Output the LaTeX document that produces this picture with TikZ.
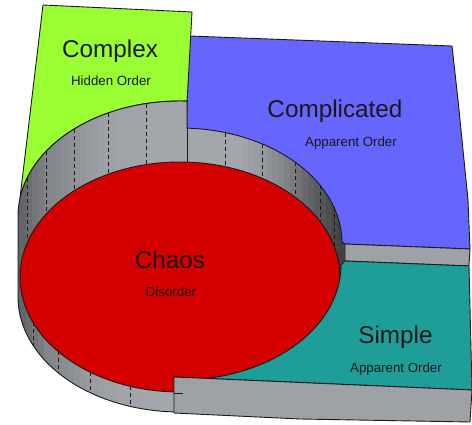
\documentclass[tikz,border=0pt]{standalone}
\usepackage{fontspec}
\setmainfont{Liberation Sans}

\definecolor{complexgreen}{HTML}{99FF33}
\definecolor{complicatedblue}{HTML}{6666FF}
\definecolor{simpleteal}{HTML}{1F9E99}
\definecolor{chaosred}{HTML}{D40000}
\definecolor{slabgray}{HTML}{9EA1A6}
\definecolor{edgecol}{HTML}{1A1A1A}
\definecolor{wallgray}{HTML}{A3A6AB}

\begin{document}
\begin{tikzpicture}[x=1pt,y=-1pt,
  edge/.style={draw=edgecol, line width=0.9pt, line join=round},
  seam/.style={draw=edgecol, line width=0.8pt, dash pattern=on 4pt off 3pt},
  bigtxt/.style={font=\fontsize{24.3}{28}\selectfont, text=black!90, inner sep=0pt, anchor=base},
  smalltxt/.style={font=\fontsize{13.3}{16}\selectfont, text=black!90, inner sep=0pt, anchor=base}]

\useasboundingbox (0,0) rectangle (472,425);

% Complicated plane (back right)
\path[fill=complicatedblue, edge] (190,36) -- (452,46) -- (458,100) -- (468,200)
  -- (470,249) -- (345,244) -- (186,128) -- cycle;
% step face below the Complicated plane
\path[fill=slabgray, edge] (345,244) -- (470,249) -- (469,266) -- (345,261) -- cycle;

% Complex plane (back left), cut by the upper rim of the cylinder
\path[fill=complexgreen, edge] (43,5) -- (192,12) -- (187.1,101.1)
  -- plot[domain=87.5:171, samples=30] ({180+162*cos(\x)},{216-115*sin(\x)}) -- cycle;

% cylinder wall, shaded in vertical strips: dark at both silhouettes, light in the middle
\begin{scope}
  \clip
    plot[domain=92.1:180, samples=40] ({180+162*cos(\x)},{297+115*sin(\x)})
    -- (18,216)
    -- plot[domain=0:92.5, samples=40] ({180+162*cos(180-\x)},{216-115*sin(180-\x)})
    -- ({180+162*cos(87.5)},{243-115*sin(87.5)})
    -- plot[domain=0:87.5, samples=40] ({180+162*cos(87.5-\x)},{243-115*sin(87.5-\x)})
    -- (345,244) -- (345,262) -- (341,277) -- cycle;
  \foreach \xx/\pc in {14/57,20/61,26/66,32/71,38/75,44/80,50/81,56/83,62/85,68/87,
      74/89,80/91,86/93,92/94,98/96,104/97,110/97,116/98,122/98,128/98,134/99,140/99,
      146/100,152/100,158/100,164/100,170/100,176/100,182/100,188/100,194/100,200/100,
      206/100,212/100,218/100,224/100,230/100,236/100,242/98,248/96,254/94,260/92,
      266/88,272/85,278/82,284/78,290/74,296/69,302/64,308/59,314/55,320/51,326/47,
      332/43,338/40,344/38}
    \fill[wallgray!\pc!black] (\xx,90) rectangle ++(6.5,330);
\end{scope}
\draw[edge]
  plot[domain=92.1:180, samples=40] ({180+162*cos(\x)},{297+115*sin(\x)})
  -- (18,216)
  -- plot[domain=0:92.5, samples=40] ({180+162*cos(180-\x)},{216-115*sin(180-\x)})
  -- ({180+162*cos(87.5)},{243-115*sin(87.5)})
  -- plot[domain=0:87.5, samples=40] ({180+162*cos(87.5-\x)},{243-115*sin(87.5-\x)})
  -- (345,244);

% Chaos disc
\path[fill=chaosred, edge] (180,277) ellipse [x radius=160pt, y radius=115pt];

% Simple plane (front right)
\path[fill=simpleteal, edge] (345,261) -- (469,266) -- (472,390) -- (174,377)
  -- plot[domain=0:92, samples=40] ({180+161*cos(92-\x)},{265+115*sin(92-\x)}) -- cycle;
% front face of the Simple plane
\path[fill=slabgray, edge] (174,377) -- (472,390) -- (470,422) -- (300,419) -- (174,413) -- cycle;
\draw[edge] (174,393.5) -- (183,393.5);

% edge where the wall steps down
\draw[edge] (187.1,128) -- (187.1,162);

% seams on the wall
\foreach \xx in {27,46,74,108,146}
  \draw[seam] (\xx,{216-115*sqrt(1-((\xx-180)/162)^2)}) -- (\xx,{277-115*sqrt(1-((\xx-180)/160)^2)});
\foreach \xx in {225,262,295,320,334}
  \draw[seam] (\xx,{243-115*sqrt(1-((\xx-180)/162)^2)}) -- (\xx,{277-115*sqrt(1-((\xx-180)/160)^2)});
\foreach \xx in {33,58,90,130}
  \draw[seam] (\xx,{277+115*sqrt(1-((\xx-180)/160)^2)}) -- (\xx,{297+115*sqrt(1-((\xx-180)/162)^2)});

% labels
\node[bigtxt] (complex) at (110,58) {Complex};
\node[smalltxt] (complexsub) at (111,86) {Hidden Order};
\node[bigtxt] (complicated) at (335,118) {Complicated};
\node[smalltxt] (complicatedsub) at (351,147) {Apparent Order};
\node[bigtxt] (chaos) at (170,269) {Chaos};
\node[smalltxt] (chaossub) at (171,297) {Disorder};
\node[bigtxt] (simple) at (395.5,344) {Simple};
\node[smalltxt] (simplesub) at (396,372) {Apparent Order};
\end{tikzpicture}
\end{document}
